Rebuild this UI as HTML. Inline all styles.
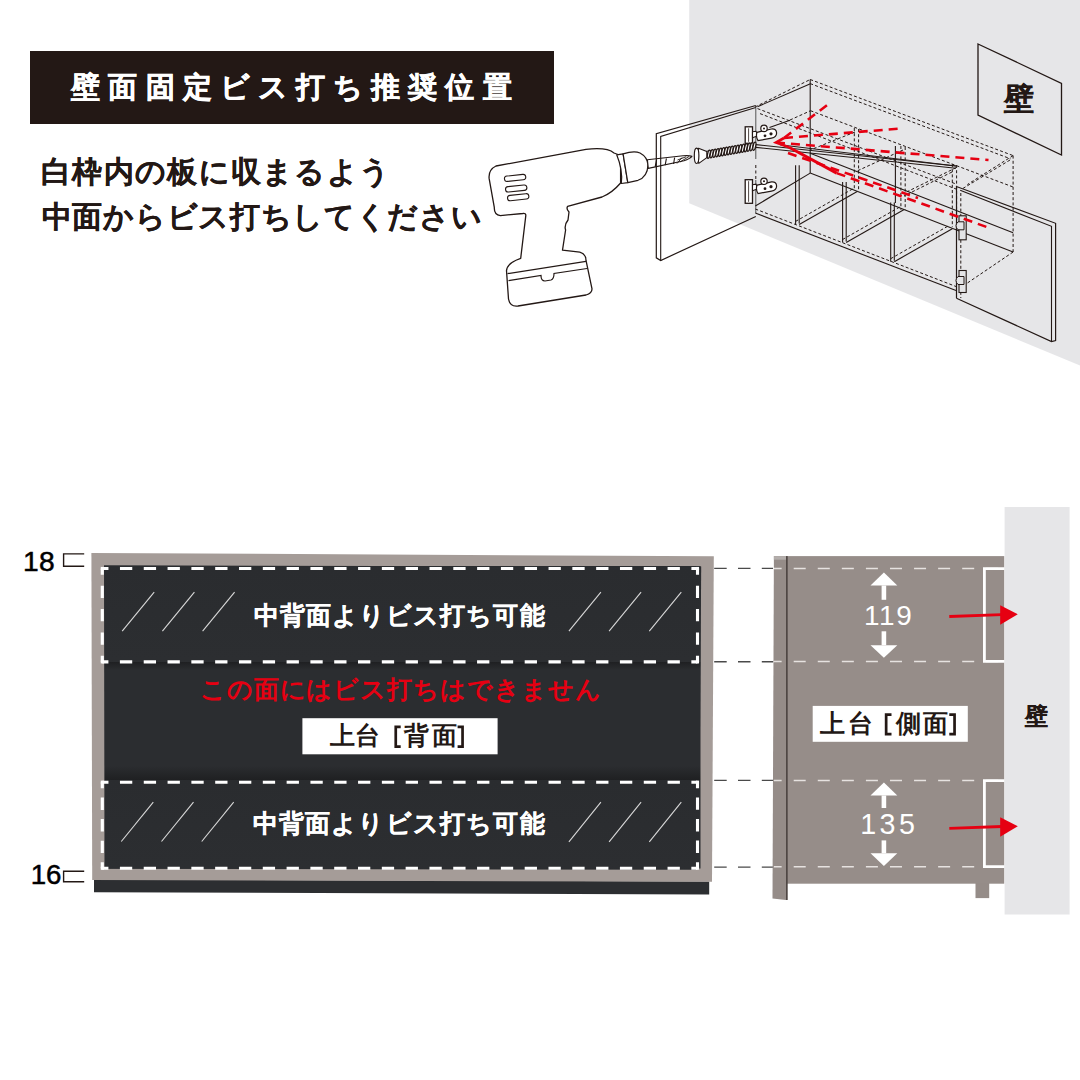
<!DOCTYPE html>
<html lang="ja"><head><meta charset="utf-8"><style>
html,body{margin:0;padding:0;background:#fff}
#c{position:relative;width:1080px;height:1080px;overflow:hidden;background:#fff;font-family:"Liberation Sans",sans-serif}
.t{position:absolute;white-space:nowrap;line-height:1}
svg{position:absolute;left:0;top:0}
</style></head><body><div id="c">
<div style="position:absolute;left:29.9px;top:51.1px;width:523.7px;height:72.6px;background:#231815"></div>
<svg width="1080" height="1080" viewBox="0 0 1080 1080">
<defs>
<pattern id="wallpat" width="3" height="3" patternUnits="userSpaceOnUse"><rect width="3" height="3" fill="#e6e6e8"/></pattern>
<linearGradient id="midg" x1="0" y1="0" x2="0" y2="1"><stop offset="0" stop-color="#1f2022"/><stop offset="0.07" stop-color="#2b2d30"/><stop offset="0.88" stop-color="#2b2d30"/><stop offset="1" stop-color="#1f2022"/></linearGradient>
<linearGradient id="topg" x1="0" y1="0" x2="0" y2="1"><stop offset="0" stop-color="#2a2c2f"/><stop offset="1" stop-color="#2c2e31"/></linearGradient>
</defs>
<polygon points="689.2,0 1080,0 1080,365.5 689.2,203.2" fill="url(#wallpat)" stroke="none" stroke-width="1" />
<polygon points="978,44 1061.5,83.3 1061.5,155 978,115" fill="none" stroke="#231815" stroke-width="1.3" />
<line x1="810.2" y1="79.5" x2="1013.1" y2="155.6" stroke="#231815" stroke-width="1.0" stroke-dasharray="3 2.2" />
<line x1="810.2" y1="83.6" x2="1010.5" y2="158.8" stroke="#231815" stroke-width="1.0" stroke-dasharray="3 2.2" />
<line x1="755" y1="107" x2="810.2" y2="79.5" stroke="#231815" stroke-width="1.0" stroke-dasharray="3 2.2" />
<line x1="757.5" y1="106.7" x2="810.4" y2="83.75" stroke="#231815" stroke-width="1.1" />
<line x1="810.5" y1="110.7" x2="1013.1" y2="187" stroke="#231815" stroke-width="1.0" stroke-dasharray="3 2.2" />
<line x1="790" y1="120" x2="810.4" y2="110.8" stroke="#231815" stroke-width="1.0" stroke-dasharray="3 2.2" />
<line x1="769.5" y1="127.6" x2="790" y2="120.3" stroke="#231815" stroke-width="1.1" />
<line x1="757.5" y1="108.6" x2="956" y2="184" stroke="#231815" stroke-width="1.0" stroke-dasharray="3 2.2" />
<line x1="760" y1="113.6" x2="956" y2="189" stroke="#231815" stroke-width="1.0" stroke-dasharray="3 2.2" />
<line x1="1013.1" y1="155.6" x2="1013.1" y2="252" stroke="#231815" stroke-width="1.0" stroke-dasharray="3 2.2" />
<line x1="1013.1" y1="155.6" x2="967.4" y2="184.5" stroke="#231815" stroke-width="1.0" stroke-dasharray="3 2.2" />
<line x1="1010" y1="160" x2="962" y2="189" stroke="#231815" stroke-width="1.0" stroke-dasharray="3 2.2" />
<line x1="1013.1" y1="252" x2="963" y2="286" stroke="#231815" stroke-width="1.0" stroke-dasharray="3 2.2" />
<line x1="810.2" y1="79.5" x2="810.2" y2="173.1" stroke="#231815" stroke-width="1.1" />
<line x1="755.8" y1="107" x2="755.8" y2="159" stroke="#555" stroke-width="1" />
<line x1="755.8" y1="165" x2="755.8" y2="180" stroke="#231815" stroke-width="1" stroke-dasharray="3 2.5" />
<line x1="755.8" y1="180" x2="755.8" y2="213" stroke="#555" stroke-width="1" />
<line x1="755.3" y1="206" x2="810.2" y2="173.1" stroke="#231815" stroke-width="1.1" />
<line x1="810.2" y1="173.1" x2="1013.1" y2="252" stroke="#231815" stroke-width="1.1" />
<line x1="810.2" y1="153.2" x2="1013.1" y2="232.7" stroke="#231815" stroke-width="1.1" />
<line x1="755.3" y1="213.1" x2="956" y2="290.6" stroke="#231815" stroke-width="1.1" />
<line x1="755.3" y1="209" x2="956" y2="286.5" stroke="#231815" stroke-width="1.0" stroke-dasharray="3 2.2" />
<line x1="795.6" y1="165.3" x2="795.6" y2="224.4" stroke="#231815" stroke-width="1.1" />
<line x1="799.2" y1="165.3" x2="799.2" y2="223.4" stroke="#231815" stroke-width="1.1" />
<line x1="799.2" y1="224.4" x2="857.2" y2="191.4" stroke="#231815" stroke-width="1.1" />
<line x1="795.6" y1="221.4" x2="853.6" y2="188.4" stroke="#231815" stroke-width="1.0" stroke-dasharray="3 2.2" />
<line x1="842.6" y1="182.1" x2="842.6" y2="242.5" stroke="#231815" stroke-width="1.1" />
<line x1="846.2" y1="182.1" x2="846.2" y2="241.5" stroke="#231815" stroke-width="1.1" />
<line x1="846.2" y1="242.5" x2="904.2" y2="209.5" stroke="#231815" stroke-width="1.1" />
<line x1="842.6" y1="239.5" x2="900.6" y2="206.5" stroke="#231815" stroke-width="1.0" stroke-dasharray="3 2.2" />
<line x1="890.7" y1="202.6" x2="890.7" y2="261.7" stroke="#231815" stroke-width="1.1" />
<line x1="894.3000000000001" y1="202.6" x2="894.3000000000001" y2="260.7" stroke="#231815" stroke-width="1.1" />
<line x1="894.3000000000001" y1="261.7" x2="952.3000000000001" y2="228.7" stroke="#231815" stroke-width="1.1" />
<line x1="890.7" y1="258.7" x2="948.7" y2="225.7" stroke="#231815" stroke-width="1.0" stroke-dasharray="3 2.2" />
<line x1="854.3" y1="128" x2="854.3" y2="190.5" stroke="#231815" stroke-width="1.0" stroke-dasharray="3 2.2" />
<line x1="858.5999999999999" y1="129" x2="858.5999999999999" y2="190.5" stroke="#231815" stroke-width="1.0" stroke-dasharray="3 2.2" />
<line x1="900.9" y1="146" x2="900.9" y2="209.8" stroke="#231815" stroke-width="1.0" stroke-dasharray="3 2.2" />
<line x1="905.1999999999999" y1="147" x2="905.1999999999999" y2="209.8" stroke="#231815" stroke-width="1.0" stroke-dasharray="3 2.2" />
<line x1="952.3" y1="164" x2="952.3" y2="227" stroke="#231815" stroke-width="1.0" stroke-dasharray="3 2.2" />
<line x1="956.5999999999999" y1="165" x2="956.5999999999999" y2="227" stroke="#231815" stroke-width="1.0" stroke-dasharray="3 2.2" />
<line x1="895.4" y1="146" x2="895.4" y2="203" stroke="#231815" stroke-width="1.1" />
<line x1="855" y1="132" x2="810.2" y2="150" stroke="#231815" stroke-width="1.0" stroke-dasharray="3 2.2" />
<line x1="903" y1="150" x2="857" y2="171" stroke="#231815" stroke-width="1.0" stroke-dasharray="3 2.2" />
<line x1="956" y1="167.7" x2="907.2" y2="191.7" stroke="#231815" stroke-width="1.0" stroke-dasharray="3 2.2" />
<line x1="952" y1="172" x2="904" y2="196" stroke="#231815" stroke-width="1.0" stroke-dasharray="3 2.2" />
<line x1="756" y1="144.6" x2="956" y2="166" stroke="#231815" stroke-width="1.1" />
<line x1="756" y1="147.4" x2="956" y2="168.3" stroke="#231815" stroke-width="1.1" />
<line x1="780" y1="144.8" x2="956" y2="166" stroke="#231815" stroke-width="1" />
<polyline points="956.5,298.3 956.5,186.5 1055.6,223.3 1055.6,340.5 1051.5,341.5 956.5,298.3" fill="none" stroke="#231815" stroke-width="1.2" />
<polyline points="960.2,190.3 1051.5,226.3 1051.5,341.5" fill="none" stroke="#231815" stroke-width="1.1" />
<line x1="960.8" y1="193" x2="960.8" y2="298" stroke="#231815" stroke-width="1.0" stroke-dasharray="3 2.2" />
<rect x="959" y="215.8" width="7.2" height="24" fill="#e4e4e6" stroke="#231815" stroke-width="1.1"/>
<path d="M958 221.8 q-4 4 0 8 l6 0 l0 -8 z" fill="#e4e4e6" stroke="#231815" stroke-width="1"/>
<rect x="959" y="270.5" width="7.2" height="22" fill="#e4e4e6" stroke="#231815" stroke-width="1.1"/>
<path d="M958 276.5 q-4 4 0 8 l6 0 l0 -8 z" fill="#e4e4e6" stroke="#231815" stroke-width="1"/>
<line x1="784" y1="138" x2="830.6" y2="102.4" stroke="#e60012" stroke-width="2.6" stroke-dasharray="9 6" />
<line x1="784" y1="138" x2="898" y2="128.7" stroke="#e60012" stroke-width="2.6" stroke-dasharray="9 6" />
<line x1="776" y1="142.5" x2="988.5" y2="160" stroke="#e60012" stroke-width="2.6" stroke-dasharray="9 6" />
<line x1="789" y1="147.2" x2="836.7" y2="173.1" stroke="#e60012" stroke-width="3" />
<line x1="836.7" y1="173.1" x2="988" y2="227.5" stroke="#e60012" stroke-width="2.6" stroke-dasharray="9 6" />
<line x1="788" y1="153" x2="918" y2="198" stroke="#e60012" stroke-width="2.6" stroke-dasharray="9 6" />
<polyline points="784,138 776,142.5 789,147.2" fill="none" stroke="#e60012" stroke-width="2.6" />
<path d="M489.2 178.9 Q488 170 496 166 L586 149.4 Q607 147 614 153 L620.6 155.5 L620.6 183 Q612 193 602 197 L567.6 206.4 Q566 209 569 212 L568 220 Q564 225 565.6 230 L562.5 250.2 L579.8 252.2 Q586 254 586 260.4 L592 288.9 Q592 293 586 295 L518 306 Q510 307 508.5 299 L506.5 270.6 Q507 263 520.7 258.3 L525.8 215.6 Q526 213 522.8 213.5 L500.4 215.6 Q494 215 494.3 207.4 Z" fill="#fff" stroke="#231815" stroke-width="1.3" stroke-linejoin="round"/>
<path d="M616.7 154.8 L623.1 153.9 L627.8 182.6 L621.3 183.5 Q623 170 616.7 154.8 Z" fill="#fff" stroke="#231815" stroke-width="1.2" stroke-linejoin="round"/>
<path d="M623.1 153.9 Q634 150.5 640 153 Q647.5 157 648 165 Q647.5 177 638 180.3 L627.8 182.6 Z" fill="#fff" stroke="#231815" stroke-width="1.2" stroke-linejoin="round"/>
<path d="M647.4 159.8 L683 155.8 Q689 155.2 691.9 156.3 Q690 158.6 684 160.8 L648.3 168.4 Z" fill="#fff" stroke="#231815" stroke-width="1.1" stroke-linejoin="round"/>
<line x1="655.2" y1="166.6" x2="656.6" y2="159.6" stroke="#231815" stroke-width="1.1" />
<line x1="665.2" y1="165.2" x2="666.4" y2="158.5" stroke="#231815" stroke-width="1.1" />
<line x1="673.6" y1="164.0" x2="674.6" y2="157.6" stroke="#231815" stroke-width="1.1" />
<path d="M677 163.5 L682 157.5 M680 162 L689 156.5 M677.5 160 L686 156.8" stroke="#231815" stroke-width="0.9" fill="none"/>
<rect x="504.4" y="175.20000000000002" width="21.399999999999977" height="5.4" rx="2.7" transform="rotate(-6 515.0999999999999 177.9)" fill="#fff" stroke="#231815" stroke-width="1.1"/>
<rect x="505.5" y="185.8" width="21.399999999999977" height="5.4" rx="2.7" transform="rotate(-6 516.2 188.5)" fill="#fff" stroke="#231815" stroke-width="1.1"/>
<rect x="507.5" y="194.5" width="21.399999999999977" height="5.4" rx="2.7" transform="rotate(-6 518.2 197.2)" fill="#fff" stroke="#231815" stroke-width="1.1"/>
<line x1="507.5" y1="273.6" x2="586" y2="261.4" stroke="#231815" stroke-width="1.2" />
<path d="M508.5 280.7 L541 275.5 Q541 281 545 281 L551 280 Q554 279 554 273.5 L587 268.5" fill="none" stroke="#231815" stroke-width="1.2"/>
<polyline points="755.8,216.5 660.7,260.5 656.3,257.8 656.3,133.7 755.8,105.5" fill="none" stroke="#231815" stroke-width="1.2" />
<polyline points="660.7,260.5 660.7,136.5 755.8,107.5" fill="none" stroke="#231815" stroke-width="1.1" />
<rect x="745.2" y="126.8" width="7.3" height="16.5" fill="#fff" stroke="#231815" stroke-width="1.3"/>
<line x1="748.6" y1="128.3" x2="748.6" y2="141.8" stroke="#231815" stroke-width="0.8" />
<path d="M752.5 131.8 L756 131.3 L758 135.8 L752.5 137.8 Z" fill="#fff" stroke="#231815" stroke-width="1.1"/>
<path d="M757 132.3 L771.5 129.0 Q776.5 128.6 776.6 133.1 Q776.6 137.4 771.5 138.2 L758 140.6 Q755.5 136.8 757 132.3 Z" fill="#fff" stroke="#231815" stroke-width="1.2"/>
<circle cx="764" cy="128.4" r="3.2" fill="#fff" stroke="#231815" stroke-width="1.2"/>
<circle cx="764" cy="128.4" r="1" fill="#231815"/>
<circle cx="765" cy="135.8" r="1.4" fill="#231815"/>
<circle cx="771" cy="133.8" r="1.6" fill="#231815"/>
<rect x="745.2" y="179.7" width="7.3" height="23.6" fill="#fff" stroke="#231815" stroke-width="1.3"/>
<line x1="748.6" y1="181.2" x2="748.6" y2="201.79999999999998" stroke="#231815" stroke-width="0.8" />
<path d="M752.5 184.7 L756 184.2 L758 188.7 L752.5 190.7 Z" fill="#fff" stroke="#231815" stroke-width="1.1"/>
<path d="M757 185.2 L771.5 181.89999999999998 Q776.5 181.5 776.6 186.0 Q776.6 190.29999999999998 771.5 191.1 L758 193.5 Q755.5 189.7 757 185.2 Z" fill="#fff" stroke="#231815" stroke-width="1.2"/>
<circle cx="764" cy="181.29999999999998" r="3.2" fill="#fff" stroke="#231815" stroke-width="1.2"/>
<circle cx="764" cy="181.29999999999998" r="1" fill="#231815"/>
<circle cx="765" cy="188.7" r="1.4" fill="#231815"/>
<circle cx="771" cy="186.7" r="1.6" fill="#231815"/>
<path d="M705 151.6 L755.4 143 L755.4 148.6 L705 157.2 Z" fill="#fff" stroke="#231815" stroke-width="0.9"/>
<ellipse cx="708.80" cy="154.25" rx="1.25" ry="4.2" transform="rotate(12 708.80 154.25)" fill="#fff" stroke="#231815" stroke-width="1.3"/><ellipse cx="711.65" cy="153.75" rx="1.25" ry="4.2" transform="rotate(12 711.65 153.75)" fill="#fff" stroke="#231815" stroke-width="1.3"/><ellipse cx="714.50" cy="153.24" rx="1.25" ry="4.2" transform="rotate(12 714.50 153.24)" fill="#fff" stroke="#231815" stroke-width="1.3"/><ellipse cx="717.35" cy="152.74" rx="1.25" ry="4.2" transform="rotate(12 717.35 152.74)" fill="#fff" stroke="#231815" stroke-width="1.3"/><ellipse cx="720.20" cy="152.24" rx="1.25" ry="4.2" transform="rotate(12 720.20 152.24)" fill="#fff" stroke="#231815" stroke-width="1.3"/><ellipse cx="723.05" cy="151.74" rx="1.25" ry="4.2" transform="rotate(12 723.05 151.74)" fill="#fff" stroke="#231815" stroke-width="1.3"/><ellipse cx="725.90" cy="151.24" rx="1.25" ry="4.2" transform="rotate(12 725.90 151.24)" fill="#fff" stroke="#231815" stroke-width="1.3"/><ellipse cx="728.75" cy="150.74" rx="1.25" ry="4.2" transform="rotate(12 728.75 150.74)" fill="#fff" stroke="#231815" stroke-width="1.3"/><ellipse cx="731.60" cy="150.23" rx="1.25" ry="4.2" transform="rotate(12 731.60 150.23)" fill="#fff" stroke="#231815" stroke-width="1.3"/><ellipse cx="734.45" cy="149.73" rx="1.25" ry="4.2" transform="rotate(12 734.45 149.73)" fill="#fff" stroke="#231815" stroke-width="1.3"/><ellipse cx="737.30" cy="149.23" rx="1.25" ry="4.2" transform="rotate(12 737.30 149.23)" fill="#fff" stroke="#231815" stroke-width="1.3"/><ellipse cx="740.15" cy="148.73" rx="1.25" ry="4.2" transform="rotate(12 740.15 148.73)" fill="#fff" stroke="#231815" stroke-width="1.3"/><ellipse cx="743.00" cy="148.23" rx="1.25" ry="4.2" transform="rotate(12 743.00 148.23)" fill="#fff" stroke="#231815" stroke-width="1.3"/><ellipse cx="745.85" cy="147.73" rx="1.25" ry="4.2" transform="rotate(12 745.85 147.73)" fill="#fff" stroke="#231815" stroke-width="1.3"/><ellipse cx="748.70" cy="147.22" rx="1.25" ry="4.2" transform="rotate(12 748.70 147.22)" fill="#fff" stroke="#231815" stroke-width="1.3"/><ellipse cx="751.55" cy="146.72" rx="1.25" ry="4.2" transform="rotate(12 751.55 146.72)" fill="#fff" stroke="#231815" stroke-width="1.3"/><ellipse cx="754.40" cy="146.22" rx="1.25" ry="4.2" transform="rotate(12 754.40 146.22)" fill="#fff" stroke="#231815" stroke-width="1.3"/>
<path d="M698.5 148.2 Q697 155.7 698.8 163.4 L706.8 157.6 L706.8 151.5 Z" fill="#fff" stroke="#231815" stroke-width="1.1" stroke-linejoin="round"/>
<ellipse cx="696.6" cy="155.8" rx="2.3" ry="7.7" fill="#fff" stroke="#231815" stroke-width="1.2"/>
<polyline points="84.2,553.9 63.6,553.9 63.6,566.2 84.2,566.2" fill="none" stroke="#231815" stroke-width="1.4" />
<polyline points="84.2,871.2 63.6,871.2 63.6,881.8 84.2,881.8" fill="none" stroke="#231815" stroke-width="1.4" />
<polygon points="94,879.5 709.2,881.5 709.2,894.6 94,892.2" fill="#2c2e31" stroke="none" stroke-width="1" />
<polygon points="91.4,553 713.8,556.2 712,881.8 92.2,880" fill="#a59c98" stroke="none" stroke-width="1" />
<polygon points="104,565.3 701.2,566.6 699,869.8 105,868.8" fill="#2b2d30" stroke="none" stroke-width="1" />
<rect x="104.5" y="662" width="596" height="118" fill="url(#midg)"/>
<rect x="104.5" y="566" width="596" height="96" fill="url(#topg)"/>
<rect x="104.5" y="780" width="596" height="88.5" fill="url(#topg)"/>
<rect x="100.75" y="566.95" width="3.1" height="3.1" fill="#fff"/>
<rect x="695.95" y="566.95" width="3.1" height="3.1" fill="#fff"/>
<rect x="695.95" y="660.35" width="3.1" height="3.1" fill="#fff"/>
<rect x="100.75" y="660.35" width="3.1" height="3.1" fill="#fff"/>
<line x1="102.3" y1="568.5" x2="697.5" y2="568.5" stroke="#fff" stroke-width="3.1" stroke-dasharray="12.30 11.51" stroke-dashoffset="6.15"/>
<line x1="697.5" y1="568.5" x2="697.5" y2="661.9" stroke="#fff" stroke-width="3.1" stroke-dasharray="12.30 11.05" stroke-dashoffset="6.15"/>
<line x1="697.5" y1="661.9" x2="102.3" y2="661.9" stroke="#fff" stroke-width="3.1" stroke-dasharray="12.30 11.51" stroke-dashoffset="6.15"/>
<line x1="102.3" y1="661.9" x2="102.3" y2="568.5" stroke="#fff" stroke-width="3.1" stroke-dasharray="12.30 11.05" stroke-dashoffset="6.15"/>
<rect x="100.75" y="780.65" width="3.1" height="3.1" fill="#fff"/>
<rect x="695.95" y="780.65" width="3.1" height="3.1" fill="#fff"/>
<rect x="695.95" y="866.75" width="3.1" height="3.1" fill="#fff"/>
<rect x="100.75" y="866.75" width="3.1" height="3.1" fill="#fff"/>
<line x1="102.3" y1="782.2" x2="697.5" y2="782.2" stroke="#fff" stroke-width="3.1" stroke-dasharray="12.30 11.51" stroke-dashoffset="6.15"/>
<line x1="697.5" y1="782.2" x2="697.5" y2="868.3" stroke="#fff" stroke-width="3.1" stroke-dasharray="12.30 9.22" stroke-dashoffset="6.15"/>
<line x1="697.5" y1="868.3" x2="102.3" y2="868.3" stroke="#fff" stroke-width="3.1" stroke-dasharray="12.30 11.51" stroke-dashoffset="6.15"/>
<line x1="102.3" y1="868.3" x2="102.3" y2="782.2" stroke="#fff" stroke-width="3.1" stroke-dasharray="12.30 9.22" stroke-dashoffset="6.15"/>
<rect x="302.4" y="718.2" width="195.2" height="36.1" fill="#fff"/>
<line x1="122.2" y1="631.1" x2="154.2" y2="592.2" stroke="#d9d9d9" stroke-width="1.1" />
<line x1="162.4" y1="631.1" x2="194.4" y2="592.2" stroke="#d9d9d9" stroke-width="1.1" />
<line x1="202.60000000000002" y1="631.1" x2="234.60000000000002" y2="592.2" stroke="#d9d9d9" stroke-width="1.1" />
<line x1="568.9" y1="631.1" x2="600.9" y2="592.2" stroke="#d9d9d9" stroke-width="1.1" />
<line x1="609.1" y1="631.1" x2="641.1" y2="592.2" stroke="#d9d9d9" stroke-width="1.1" />
<line x1="649.3" y1="631.1" x2="681.3" y2="592.2" stroke="#d9d9d9" stroke-width="1.1" />
<line x1="121.3" y1="841.5" x2="153.3" y2="802.1" stroke="#d9d9d9" stroke-width="1.1" />
<line x1="161.5" y1="841.5" x2="193.5" y2="802.1" stroke="#d9d9d9" stroke-width="1.1" />
<line x1="201.7" y1="841.5" x2="233.7" y2="802.1" stroke="#d9d9d9" stroke-width="1.1" />
<line x1="568.9" y1="841.8" x2="600.9" y2="802.2" stroke="#d9d9d9" stroke-width="1.1" />
<line x1="609.1" y1="841.8" x2="641.1" y2="802.2" stroke="#d9d9d9" stroke-width="1.1" />
<line x1="649.3" y1="841.8" x2="681.3" y2="802.2" stroke="#d9d9d9" stroke-width="1.1" />
<line x1="714.2" y1="568.4" x2="773" y2="568.4" stroke="#4a4a4a" stroke-width="1.4" stroke-dasharray="12.5 11.3" />
<line x1="714.2" y1="661.8" x2="773" y2="661.8" stroke="#4a4a4a" stroke-width="1.4" stroke-dasharray="12.5 11.3" />
<line x1="714.2" y1="780.4" x2="773" y2="780.4" stroke="#4a4a4a" stroke-width="1.4" stroke-dasharray="12.5 11.3" />
<line x1="714.2" y1="867.1" x2="773" y2="867.1" stroke="#4a4a4a" stroke-width="1.4" stroke-dasharray="12.5 11.3" />
<rect x="786" y="556.1" width="218.3" height="327.6" fill="#968d89"/>
<polygon points="773.9,556.1 786,556.1 786,900 772.5,898.5" fill="#958c88" stroke="none" stroke-width="1" />
<rect x="773.9" y="556.1" width="12.1" height="3.6" fill="#b3adab"/>
<rect x="786" y="556.1" width="1.7" height="343.9" fill="#4f4744"/>
<rect x="975.5" y="883" width="13.7" height="15.1" fill="#958c88"/>
<line x1="773.9" y1="568.6" x2="1004" y2="568.6" stroke="#e6e2e0" stroke-width="1.5" stroke-dasharray="12 12.07" stroke-dashoffset="-19.8"/>
<line x1="773.9" y1="661.6" x2="1004" y2="661.6" stroke="#e6e2e0" stroke-width="1.5" stroke-dasharray="12 12.07" stroke-dashoffset="-19.8"/>
<line x1="773.9" y1="780.4" x2="1004" y2="780.4" stroke="#e6e2e0" stroke-width="1.5" stroke-dasharray="12 12.07" stroke-dashoffset="-19.8"/>
<line x1="773.9" y1="866.8" x2="1004" y2="866.8" stroke="#e6e2e0" stroke-width="1.5" stroke-dasharray="12 12.07" stroke-dashoffset="-19.8"/>
<polyline points="1004.5,568.7 984.4,568.7 984.4,661.4 1004.5,661.4" fill="none" stroke="#fff" stroke-width="2.8" />
<polyline points="1004.5,780.6 984.4,780.6 984.4,866.7 1004.5,866.7" fill="none" stroke="#fff" stroke-width="2.8" />
<rect x="1004.6" y="507" width="65" height="407.5" fill="url(#wallpat)"/>
<rect x="812.7" y="705.9" width="155.1" height="35.9" fill="#fff"/>
<line x1="949.3" y1="616.5" x2="1002" y2="614.6" stroke="#e60012" stroke-width="2.8" />
<polygon points="1000.2,605.3000000000001 1017.8,614.3000000000001 1000.2,624.8000000000001" fill="#e60012" stroke="none" stroke-width="1" />
<line x1="949.3" y1="828.3" x2="1002" y2="826.5" stroke="#e60012" stroke-width="2.8" />
<polygon points="1000.2,817.2 1017.8,826.2 1000.2,836.7" fill="#e60012" stroke="none" stroke-width="1" />
<polygon points="883.9,572.6 870.5,585.5 897.3,585.5" fill="#fff" stroke="none" stroke-width="1" />
<rect x="881.6" y="585.5" width="4.6" height="14.299999999999955" fill="#fff"/>
<polygon points="883.9,657.8 870.5,645.2 897.3,645.2" fill="#fff" stroke="none" stroke-width="1" />
<rect x="881.6" y="631.3" width="4.6" height="13.900000000000091" fill="#fff"/>
<polygon points="883.9,782.6 870.5,795.5 897.3,795.5" fill="#fff" stroke="none" stroke-width="1" />
<rect x="881.6" y="795.5" width="4.6" height="12.5" fill="#fff"/>
<polygon points="883.9,865.9 870.5,853.3 897.3,853.3" fill="#fff" stroke="none" stroke-width="1" />
<rect x="881.6" y="840.4" width="4.6" height="12.899999999999977" fill="#fff"/>
<path d="M400.7 726.95 H395.75 V746.55 H400.7" fill="none" stroke="#231815" stroke-width="2.7"/>
<path d="M457.6 726.95 H462.54999999999995 V746.55 H457.6" fill="none" stroke="#231815" stroke-width="2.7"/>
<path d="M891.5 714.5500000000001 H886.15 V734.15 H891.5" fill="none" stroke="#231815" stroke-width="2.7"/>
<path d="M949.3 714.5500000000001 H954.55 V734.15 H949.3" fill="none" stroke="#231815" stroke-width="2.7"/>
</svg>
<div class="t" style="left:71.3px;top:73.4px;font-size:28.9px;font-weight:700;letter-spacing:8.11px;color:#fff;-webkit-text-stroke:0.5px #fff">壁面固定ビス打ち推奨位置</div>
<div class="t" style="left:41.2px;top:156.5px;font-size:30.2px;font-weight:700;letter-spacing:1.27px;color:#231815;-webkit-text-stroke:0.15px #231815">白枠内の板に収まるよう</div>
<div class="t" style="left:41.8px;top:201.9px;font-size:30.2px;font-weight:700;letter-spacing:0.7px;color:#231815;-webkit-text-stroke:0.15px #231815">中面からビス打ちしてください</div>
<div class="t" style="left:1004.0px;top:84.4px;font-size:29.5px;font-weight:700;letter-spacing:0.0px;color:#231815;-webkit-text-stroke:0.4px #231815">壁</div>
<div class="t" style="left:23.0px;top:546.7px;font-size:28.2px;font-weight:400;letter-spacing:0.3px;color:#000;-webkit-text-stroke:0.5px #000">18</div>
<div class="t" style="left:30.8px;top:861.3px;font-size:27.7px;font-weight:400;letter-spacing:-0.2px;color:#000;-webkit-text-stroke:0.5px #000">16</div>
<div class="t" style="left:253.6px;top:604.1px;font-size:24.5px;font-weight:700;letter-spacing:1.1px;color:#fff;-webkit-text-stroke:0.3px #fff">中背面よりビス打ち可能</div>
<div class="t" style="left:199.6px;top:678.2px;font-size:24.6px;font-weight:700;letter-spacing:0.97px;color:#e60012;">この面にはビス打ちはできません</div>
<div class="t" style="left:252.6px;top:812.4px;font-size:24.5px;font-weight:700;letter-spacing:1.2px;color:#fff;-webkit-text-stroke:0.3px #fff">中背面よりビス打ち可能</div>
<div class="t" style="left:863.9px;top:601.9px;font-size:27.9px;font-weight:400;letter-spacing:1.75px;color:#fff;">119</div>
<div class="t" style="left:860.2px;top:810.4px;font-size:28.7px;font-weight:400;letter-spacing:3.45px;color:#fff;">135</div>
<div class="t" style="left:1025.0px;top:704.6px;font-size:23px;font-weight:700;letter-spacing:0.0px;color:#231815;-webkit-text-stroke:0.3px #231815">壁</div>
<div class="t" style="left:330.25px;top:724.05px;font-size:24.5px;font-weight:700;color:#231815">上</div>
<div class="t" style="left:355.15px;top:724.05px;font-size:24.5px;font-weight:700;color:#231815">台</div>
<div class="t" style="left:404.00px;top:724.05px;font-size:24.5px;font-weight:700;color:#231815">背</div>
<div class="t" style="left:431.87px;top:724.05px;font-size:24.5px;font-weight:700;color:#231815">面</div>
<div class="t" style="left:820.00px;top:711.65px;font-size:24.5px;font-weight:700;color:#231815">上</div>
<div class="t" style="left:847.50px;top:711.65px;font-size:24.5px;font-weight:700;color:#231815">台</div>
<div class="t" style="left:896.13px;top:711.65px;font-size:24.5px;font-weight:700;color:#231815">側</div>
<div class="t" style="left:922.57px;top:711.65px;font-size:24.5px;font-weight:700;color:#231815">面</div>
</div></body></html>
